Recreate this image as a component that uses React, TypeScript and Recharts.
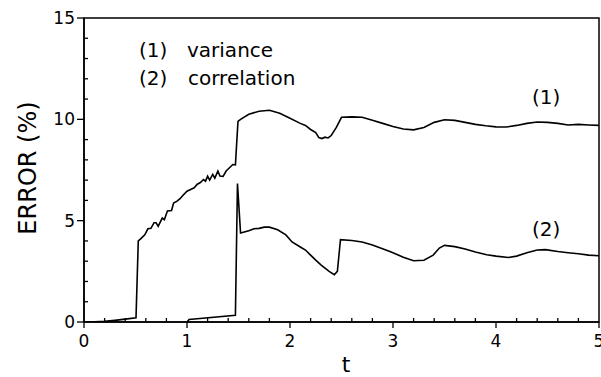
import { LineChart, Line, XAxis, YAxis, ReferenceArea } from "recharts";

// curve (1): variance error
const varianceT = [
  0, 0.1, 0.2, 0.3, 0.4, 0.505, 0.527, 0.55, 0.59, 0.62, 0.65, 0.68, 0.7, 0.72,
  0.76, 0.78, 0.81, 0.85, 0.87, 0.9, 0.93, 0.97, 1.0, 1.04, 1.07, 1.1, 1.13,
  1.16, 1.18, 1.2, 1.22, 1.25, 1.27, 1.3, 1.32, 1.35, 1.38, 1.41, 1.445, 1.47,
  1.495, 1.52, 1.6, 1.7, 1.8, 1.9, 2.0, 2.1, 2.15, 2.2, 2.25, 2.28, 2.31, 2.34,
  2.37, 2.4, 2.45, 2.5, 2.6, 2.7, 2.8, 2.9, 3.0, 3.1, 3.2, 3.3, 3.4, 3.5, 3.6,
  3.7, 3.8, 3.9, 4.0, 4.1, 4.2, 4.3, 4.4, 4.5, 4.6, 4.7, 4.8, 4.9, 5.0,
];
const varianceErr = [
  0, 0.01, 0.03, 0.08, 0.14, 0.21, 4.0, 4.1, 4.3, 4.6, 4.62, 4.9, 4.9, 4.72,
  5.13, 5.05, 5.48, 5.5, 5.87, 5.95, 6.07, 6.3, 6.45, 6.55, 6.62, 6.8, 6.88,
  7.03, 6.95, 7.2, 7.0, 7.28, 7.1, 7.45, 7.2, 7.18, 7.45, 7.6, 7.77, 7.75,
  9.9, 10.0, 10.25, 10.4, 10.45, 10.3, 10.05, 9.8, 9.7, 9.5, 9.35, 9.1, 9.05,
  9.12, 9.08, 9.2, 9.6, 10.1, 10.12, 10.1, 9.95, 9.8, 9.65, 9.52, 9.48, 9.6,
  9.85, 9.98, 9.95, 9.85, 9.75, 9.68, 9.63, 9.62, 9.7, 9.8, 9.87, 9.85, 9.8,
  9.72, 9.75, 9.72, 9.7,
];

// curve (2): correlation error
const correlationT = [
  1.0, 1.02, 1.47, 1.49, 1.52, 1.6, 1.65, 1.7, 1.75, 1.8, 1.88, 1.96, 2.02, 2.1,
  2.15, 2.2, 2.25, 2.3, 2.38, 2.43, 2.46, 2.49, 2.6, 2.7, 2.8, 2.97, 3.1, 3.2,
  3.3, 3.39, 3.45, 3.5, 3.6, 3.7, 3.8, 3.91, 4.0, 4.12, 4.2, 4.3, 4.4, 4.48,
  4.6, 4.7, 4.8, 4.9, 5.0,
];
const correlationErr = [
  0, 0.12, 0.33, 6.83, 4.39, 4.5, 4.6, 4.62, 4.68, 4.68, 4.55, 4.3, 3.95, 3.7,
  3.55, 3.3, 3.05, 2.82, 2.5, 2.33, 2.5, 4.06, 4.02, 3.95, 3.8, 3.48, 3.2,
  3.02, 3.05, 3.3, 3.65, 3.78, 3.72, 3.6, 3.45, 3.32, 3.25, 3.18, 3.25, 3.42,
  3.55, 3.57, 3.48, 3.42, 3.37, 3.3, 3.27,
];

const xTicks = [
  0, 0.2, 0.4, 0.6, 0.8, 1, 1.2, 1.4, 1.6, 1.8, 2, 2.2, 2.4, 2.6, 2.8, 3, 3.2,
  3.4, 3.6, 3.8, 4, 4.2, 4.4, 4.6, 4.8, 5,
];
const yTicks = [0, 1, 2, 3, 4, 5, 6, 7, 8, 9, 10, 11, 12, 13, 14, 15];

const varianceData = varianceT.map((t, i) => ({ t, err: varianceErr[i] }));
const correlationData = correlationT.map((t, i) => ({ t, err: correlationErr[i] }));

const FONT = "'DejaVu Sans', sans-serif";
const isMajor = (v: number) => Math.abs(v - Math.round(v)) < 1e-6;

function XTick({ x, y, payload }: any) {
  const v = payload.value;
  if (!isMajor(v)) {
    return <line x1={x} y1={y} x2={x} y2={y - 4} stroke="#000" strokeWidth={1.3} />;
  }
  return (
    <g>
      <line x1={x} y1={y} x2={x} y2={y + 6} stroke="#000" strokeWidth={1.3} />
      <text x={x} y={y + 25} textAnchor="middle" fontSize={17} fontFamily={FONT} fill="#000">
        {v}
      </text>
    </g>
  );
}

function YTick({ x, y, payload }: any) {
  const v = payload.value;
  if (v % 5 !== 0) {
    return <line x1={x} y1={y} x2={x + 4} y2={y} stroke="#000" strokeWidth={1.3} />;
  }
  return (
    <g>
      <line x1={x} y1={y} x2={x - 7} y2={y} stroke="#000" strokeWidth={1.3} />
      <text x={x - 9} y={y + 6} textAnchor="end" fontSize={17} fontFamily={FONT} fill="#000">
        {v}
      </text>
    </g>
  );
}

export default function App() {
  return (
    <div style={{ position: "absolute", left: 0, top: 0, width: 601, height: 377, background: "#fff" }}>
      <LineChart
        width={601}
        height={377}
        margin={{ top: 18, right: 2, bottom: 0, left: 0 }}
      >
        <XAxis
          dataKey="t"
          type="number"
          domain={[0, 5]}
          ticks={xTicks}
          interval={0}
          height={55}
          tickSize={0}
          tickMargin={0}
          tickLine={false}
          tick={<XTick />}
          axisLine={{ stroke: "#000", strokeWidth: 1.5 }}
          allowDataOverflow
        />
        <YAxis
          type="number"
          domain={[0, 15]}
          ticks={yTicks}
          interval={0}
          width={84}
          tickSize={0}
          tickMargin={0}
          tickLine={false}
          tick={<YTick />}
          axisLine={{ stroke: "#000", strokeWidth: 1.5 }}
          allowDataOverflow
        />
        <ReferenceArea x1={0} x2={5} y1={0} y2={15} fill="none" stroke="#000" strokeWidth={1.5} />
        <Line
          data={varianceData}
          dataKey="err"
          type="linear"
          stroke="#000"
          strokeWidth={1.6}
          dot={false}
          isAnimationActive={false}
        />
        <Line
          data={correlationData}
          dataKey="err"
          type="linear"
          stroke="#000"
          strokeWidth={1.6}
          dot={false}
          isAnimationActive={false}
        />
      </LineChart>
      <svg
        width={601}
        height={377}
        style={{ position: "absolute", left: 0, top: 0, pointerEvents: "none" }}
        fontFamily={FONT}
        fill="#000"
      >
        <text x={139} y={57} fontSize={20}>(1)</text>
        <text x={187} y={57} fontSize={20}>variance</text>
        <text x={139} y={85} fontSize={20}>(2)</text>
        <text x={188} y={85} fontSize={20}>correlation</text>
        <text x={532} y={104} fontSize={20}>(1)</text>
        <text x={532} y={236} fontSize={20}>(2)</text>
        <text x={346} y={372} fontSize={22} textAnchor="middle">t</text>
        <text
          x={36}
          y={168}
          fontSize={24}
          textAnchor="middle"
          transform="rotate(-90 36 168)"
        >
          ERROR (%)
        </text>
      </svg>
    </div>
  );
}
